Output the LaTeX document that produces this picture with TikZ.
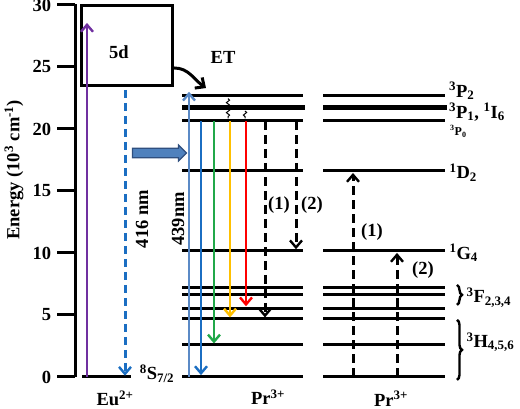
\documentclass[tikz,border=0pt]{standalone}
\usepackage{fontspec}
\setmainfont{Liberation Serif}
\usetikzlibrary{arrows.meta,shapes.arrows,decorations.pathmorphing,decorations.pathreplacing}
\definecolor{violetline}{HTML}{7030A0}
\definecolor{paleblue}{HTML}{5B8AC6}
\definecolor{deepblue}{HTML}{1B6EC2}
\definecolor{leafgreen}{HTML}{21A84A}
\definecolor{amber}{HTML}{FFC000}
\definecolor{steelfill}{HTML}{4F81BD}
\definecolor{steeledge}{HTML}{2F4F7F}
\tikzset{
  lvl/.style={line width=3pt},
  tip/.style={-{Straight Barb[length=7pt,width=12pt,line width=2.4pt]}},
  emis/.style={line width=2.6pt, tip},
  dsh/.style={line width=3pt, dash pattern=on 9pt off 5pt, tip},
  wavy/.style={decorate, decoration={snake, amplitude=1.6pt, segment length=5pt}, line width=1pt},
  brc/.style={decorate, decoration={brace, amplitude=5pt}, line width=2.4pt}
}

\begin{document}
\begin{tikzpicture}[x=1pt, y=12.4pt, font=\bfseries\fontsize{18.5}{21}\selectfont]
		\useasboundingbox (0,-2.58) rectangle (520,30.4);
		% energy axis
		\draw[line width=3pt] (75,0) -- (75,30.1);
		\foreach \e in {0,5,...,30}
			\draw[line width=3pt] (57,\e) -- (75,\e) node[pos=0, left=1pt] (tick\e) {\e};
		\node[rotate=90] (ylabel) at (14,16.7) {Energy (10\textsuperscript{3} cm\textsuperscript{-1})};
		% Eu2+
		\draw[lvl] (82,0) -- (131,0);
		\node[draw, line width=3pt, minimum width=91pt, minimum height=80pt, inner sep=0pt, anchor=north west] (box5d) at (80,30.08) {};
		\node (lab5d) at (119,26.2) {5d};
		\draw[violetline, emis] (87,0) -- (87,28.55);
		\draw[deepblue, line width=3pt, dash pattern=on 8pt off 5pt, tip] (125,23.15) -- (125,0.1);
		\node[rotate=90] (nm416) at (142,12.74) {416 nm};
		\node (s87) at (157,0.25) {\textsuperscript{8}S\textsubscript{7/2}};
		\node (eu) at (115,-1.72) {Eu\textsuperscript{2+}};
		\node[single arrow, draw=steeledge, fill=steelfill, line width=1.2pt, minimum height=54pt, minimum width=16pt, inner sep=4pt, single arrow head extend=3pt] (pump) at (157,18.06) {};
		% energy transfer
		\coordinate (ettip) at (206,23.3);
		\draw[line width=3pt, -{Straight Barb[length=7pt,width=13pt]}] ([yshift=19pt]box5d.south east) to[out=0, in=145] (ettip);
		\node (et) at (223,25.8) {ET};
		% Pr3+ levels
		\foreach \e in {22.66,20.65,16.61,10.16,7.18,6.61,5.56,4.68,2.58,0} {
			\draw[lvl] (182,\e) -- (303,\e);
			\draw[lvl] (323,\e) -- (445,\e);
		}
		\draw[line width=5pt] (182,21.69) -- (305,21.69);
		\draw[line width=5pt] (323,21.69) -- (447,21.69);
		% emissions
		\draw[paleblue, emis] (189,0) -- (189,23.0);
		\draw[deepblue, emis] (201,20.65) -- (201,0.15);
		\draw[leafgreen, emis] (214,20.65) -- (214,2.7);
		\draw[amber, emis] (230,20.65) -- (230,4.8);
		\draw[red, emis] (246,20.65) -- (246,5.7);
		\node[rotate=90] (nm439) at (178,12.74) {439nm};
		\draw[wavy] (228,22.45) -- (228,20.85);
		\draw[wavy] (245,21.45) -- (245,20.85);
		% cross relaxation
		\draw[dsh] (265,20.65) -- (265,4.8);
		\draw[dsh] (296,20.65) -- (296,10.3);
		\node (cr1a) at (279,13.87) {(1)};
		\node (cr2a) at (312,13.87) {(2)};
		\draw[dsh] (353,0) -- (353,16.45);
		\draw[dsh] (397,0) -- (397,10.0);
		\node (cr1b) at (372,11.69) {(1)};
		\node (cr2b) at (423,8.63) {(2)};
		% term symbols
		\node[anchor=west, inner sep=1pt] (p2) at (448,23.05) {\textsuperscript{3}P\textsubscript{2}};
		\node[anchor=west, inner sep=1pt] (p1) at (448,21.35) {\textsuperscript{3}P\textsubscript{1}, \textsuperscript{1}I\textsubscript{6}};
		\node[anchor=west, inner sep=1pt, font=\bfseries\fontsize{12}{14}\selectfont] (p0) at (449,19.8) {\textsuperscript{3}P\textsubscript{0}};
		\node[anchor=west] (d2) at (446,16.5) {\textsuperscript{1}D\textsubscript{2}};
		\node[anchor=west] (g4) at (446,10.0) {\textsuperscript{1}G\textsubscript{4}};
		\draw[brc] (457,7.42) -- (457,5.81);
		\node[anchor=west] (f234) at (463,6.4) {\textsuperscript{3}F\textsubscript{2,3,4}};
		\draw[brc] (457,4.6) -- (457,-0.24);
		\node[anchor=west] (h456) at (463,2.8) {\textsuperscript{3}H\textsubscript{4,5,6}};
		\node (pr1) at (268,-1.62) {Pr\textsuperscript{3+}};
		\node (pr2) at (391,-1.75) {Pr\textsuperscript{3+}};
	\end{tikzpicture}
\end{document}
